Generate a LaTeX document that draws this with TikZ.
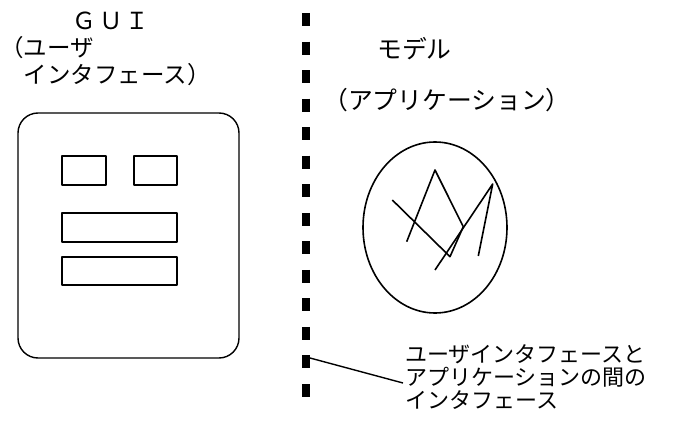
\documentclass[tikz,border=0pt]{standalone}
\usepackage{fontspec}
\newfontfamily\jp{Noto Sans CJK JP}
\begin{document}
\begin{tikzpicture}[x=1pt,y=-1pt,line join=round,
  outline/.style={draw=black,line width=1.4pt},
  sketch/.style={draw=black,line width=1.6pt},
  txt/.style={inner sep=0pt,anchor=west,font=\jp\fontsize{23.5}{27}\selectfont},
  txtb/.style={inner sep=0pt,anchor=west,font=\jp\fontsize{24.8}{27}\selectfont},
  lbl/.style={inner sep=0pt,anchor=west,font=\jp\fontsize{22}{22}\selectfont},
  sepline/.style={line width=8pt,dash pattern=on 13pt off 15.54pt}]
\useasboundingbox (0,0) rectangle (683,428);
% GUI window
\draw[outline,rounded corners=20pt] (18,113) rectangle (239,358);
\draw[outline] (62,156) rectangle (106,185);
\draw[outline] (134,156) rectangle (177,185);
\draw[outline] (62,213) rectangle (177,242);
\draw[outline] (62,257) rectangle (177,285);
% model ellipse
\draw[sketch] (435,227.5) ellipse [x radius=72, y radius=85.5];
\draw[sketch] (392.3,200) -- (450,256.7) -- (463.3,226.7) -- (435,170) -- (406.7,241.7);
\draw[sketch] (435,270) -- (492.7,184) -- (478.3,256);
% separator
\draw[sepline] (306,13) -- (306,397);
\coordinate (tick) at (310,358);
% texts
\node[txt,anchor=center] (gui) at (111,20.5) {Ｇ\hspace{3pt}Ｕ\hspace{3pt}Ｉ};
\node[txt] (gui2) at (0,48) {（ユーザ};
\node[txt] (gui3) at (0,75) {　インタフェース）};
\node[txtb] (model) at (377,49) {モデル};
\node[txtb] (model2) at (323,100) {（アプリケーション）};
\node[lbl] (lab1) at (405,354) {ユーザインタフェースと};
\node[lbl] (lab2) at (405,377) {アプリケーションの間の};
\node[lbl] (lab3) at (405,400) {インタフェース};
\draw[line width=1.4pt] (tick) -- ([xshift=-2pt,yshift=-6pt]lab2.west);
\end{tikzpicture}
\end{document}
